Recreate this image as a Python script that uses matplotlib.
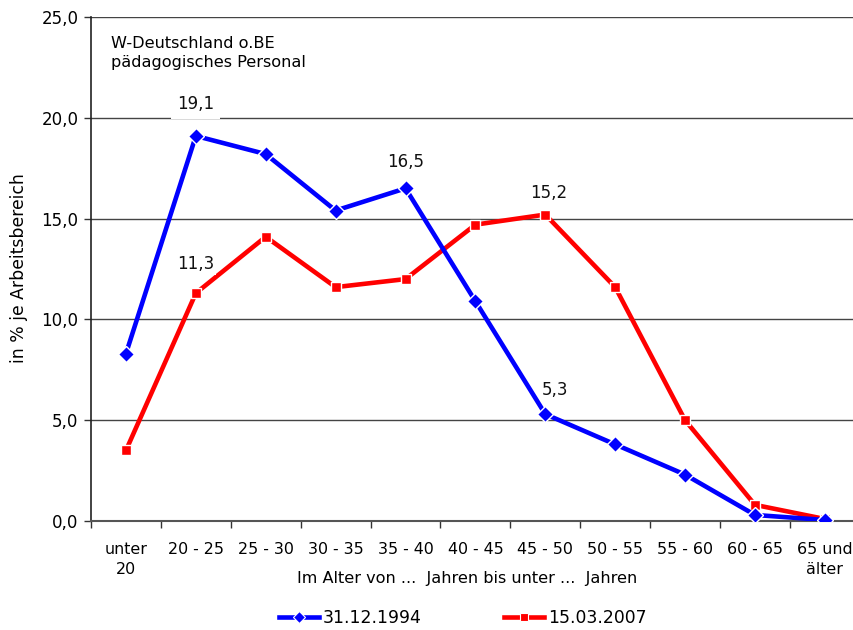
import matplotlib
matplotlib.use("Agg")
import matplotlib.pyplot as plt
from matplotlib.lines import Line2D
import numpy as np

categories = ["unter\n20", "20 - 25", "25 - 30", "30 - 35", "35 - 40", "40 - 45",
              "45 - 50", "50 - 55", "55 - 60", "60 - 65", "65 und\nälter"]
series_1994 = [8.3, 19.1, 18.2, 15.4, 16.5, 10.9, 5.3, 3.8, 2.3, 0.3, 0.05]
series_2007 = [3.5, 11.3, 14.1, 11.6, 12.0, 14.7, 15.2, 11.6, 5.0, 0.8, 0.1]
label_1994 = "31.12.1994"
label_2007 = "15.03.2007"
yticks = [0, 5, 10, 15, 20, 25]
labels_1994 = [1, 4, 6]
labels_2007 = [1, 6]

plt.rcParams['font.family'] = ['DejaVu Sans']
fig = plt.figure(figsize=(8.54, 6.30), dpi=100)
W, H = 854, 630
left, right, top, bottom = 91, 859.8, 17, 521
ax = fig.add_axes([left / W, 1 - bottom / H, (right - left) / W, (bottom - top) / H])

x = np.arange(len(categories))
ax.set_xlim(-0.5, len(categories) - 0.5)
ax.set_ylim(0, 25)

for v in yticks[1:]:
    ax.axhline(v, color="#444444", lw=1.0, zorder=1)

ax.plot(x, series_1994, color="#0000FF", lw=3.3, marker="D", ms=8,
        mec="white", mew=1.0, zorder=4)
ax.plot(x, series_2007, color="#FF0000", lw=3.3, marker="s", ms=7,
        mec="white", mew=1.0, zorder=3)

def fmt(v):
    return f"{v:.1f}".replace(".", ",")

# label offsets in pixels and box padding (style only)
off_1994 = {1: (0, 32, 0.35), 4: (0, 26, 0.1), 6: (10, 24, 0.05)}
off_2007 = {1: (0, 29, 0.1), 6: (3, 22, 0.1)}
for i in labels_1994:
    dx, dy, pad = off_1994[i]
    ax.annotate(fmt(series_1994[i]), (x[i], series_1994[i]), xytext=(dx * 0.72, dy * 0.72),
                textcoords="offset points", ha="center", va="center", fontsize=12,
                color="#111111", zorder=5,
                bbox=dict(boxstyle=f"square,pad={pad}", fc="white", ec="none"))
for i in labels_2007:
    dx, dy, pad = off_2007[i]
    ax.annotate(fmt(series_2007[i]), (x[i], series_2007[i]), xytext=(dx * 0.72, dy * 0.72),
                textcoords="offset points", ha="center", va="center", fontsize=12,
                color="#111111", zorder=5,
                bbox=dict(boxstyle=f"square,pad={pad}", fc="white", ec="none"))

ax.set_yticks(yticks)
ax.set_yticklabels([fmt(v) for v in yticks], fontsize=12)
ax.set_xticks(x)
ax.set_xticklabels(categories, fontsize=11.4, va="top", linespacing=1.45)
ax.set_xticks(np.arange(len(categories) + 1) - 0.5, minor=True)
ax.tick_params(axis="x", which="major", length=0, pad=15)
ax.tick_params(axis="x", which="minor", length=5, width=1, color="#333333")
ax.tick_params(axis="y", length=5, width=1, color="#333333", pad=4)

for s in ["top", "right"]:
    ax.spines[s].set_visible(False)
ax.spines["left"].set_color("#222222")
ax.spines["bottom"].set_color("#555555")
ax.spines["left"].set_linewidth(1.2)
ax.spines["bottom"].set_linewidth(1.5)

fig.text(19 / W, 1 - 268 / H, "in % je Arbeitsbereich", rotation=90,
         ha="center", va="center", fontsize=12.4)
fig.text(467 / W, 1 - 578 / H, "Im Alter von ...  Jahren bis unter ...  Jahren",
         ha="center", va="center", fontsize=11.6)
fig.text(111 / W, 1 - 36 / H, "W-Deutschland o.BE\npädagogisches Personal",
         ha="left", va="top", fontsize=11.6, linespacing=1.3)

handles = [Line2D([], [], color="#0000FF", lw=3.3, marker="D", ms=6, mec="white", mew=0.8),
           Line2D([], [], color="#FF0000", lw=3.3, marker="s", ms=6, mec="white", mew=0.8)]
fig.legend(handles, [label_1994, label_2007], loc="center",
           bbox_to_anchor=(463 / W, 1 - 618 / H), ncol=2, frameon=False,
           fontsize=12.4, handlelength=2.3, columnspacing=4.8, handletextpad=0.25)

fig.savefig("out.png", dpi=100)
